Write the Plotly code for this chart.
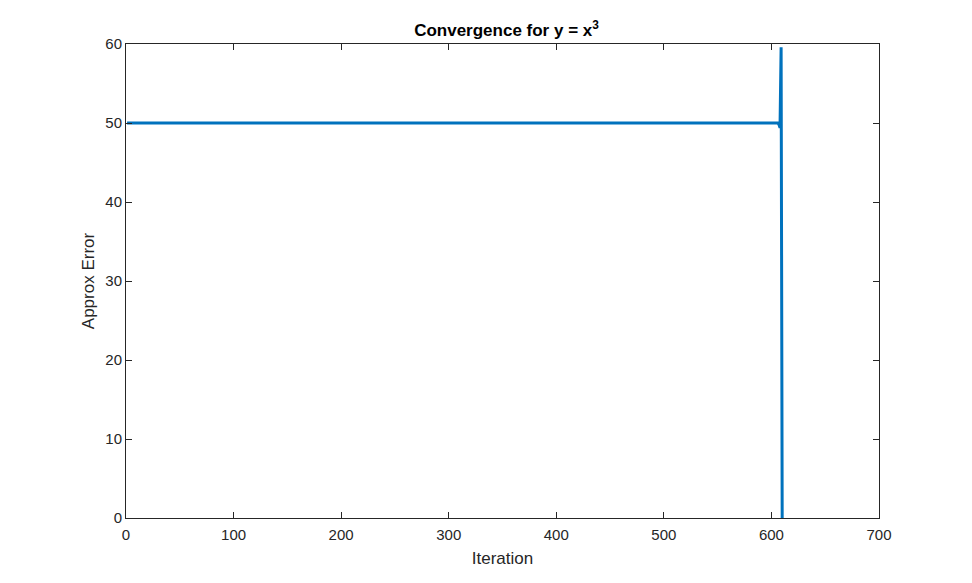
import plotly.graph_objects as go

# Data
plateau_iters = list(range(1, 607))
plateau_err = [50.0] * len(plateau_iters)
tail_iters = [607, 608, 609, 610]
tail_err = [49.8, 49.4, 59.6, 0.0]

iterations = plateau_iters + tail_iters
approx_error = plateau_err + tail_err

x_ticks = [0, 100, 200, 300, 400, 500, 600, 700]
y_ticks = [0, 10, 20, 30, 40, 50, 60]

fig = go.Figure()
fig.add_trace(go.Scatter(x=iterations, y=approx_error, mode="lines",
                         line=dict(color="#0072BD", width=3), showlegend=False))

axis_common = dict(showline=True, linecolor="#262626", linewidth=1, mirror="ticks",
                   ticks="inside", ticklen=6, tickcolor="#262626", showgrid=False,
                   zeroline=False, tickfont=dict(size=15, color="#262626"))

fig.update_layout(
    width=972, height=583,
    paper_bgcolor="white", plot_bgcolor="white",
    margin=dict(l=118, r=101, t=36, b=73),
    font=dict(family="Liberation Sans, Arial, sans-serif", color="#262626"),
    title=dict(text="<b>Convergence for y = x<sup>3</sup></b>", x=(122 + 753 / 2) / 972, xanchor="center",
               y=1 - 22/583, yanchor="middle", font=dict(size=17, color="black")),
    xaxis=dict(range=[0, 700], tickvals=x_ticks, ticklabelstandoff=3,
               title=dict(text="Iteration", font=dict(size=17), standoff=10), **axis_common),
    yaxis=dict(range=[0, 60], tickvals=y_ticks,
               title=dict(text="Approx Error", font=dict(size=17), standoff=6), **axis_common),
)

fig.write_html("out.html")
